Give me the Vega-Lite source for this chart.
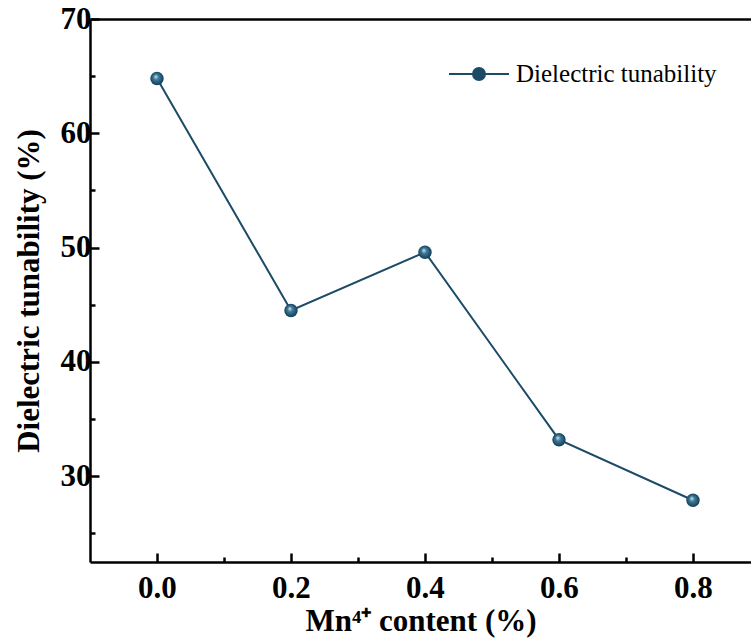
{
  "$schema": "https://vega.github.io/schema/vega-lite/v6.json",
  "width": 661,
  "height": 543,
  "autosize": "none",
  "padding": {"left": 90, "top": 19, "right": 0, "bottom": 79},
  "background": "white",
  "config": {
    "view": {"stroke": null},
    "font": "Liberation Serif"
  },
  "data": {
    "values": [
      {"mn": 0.0, "tun": 64.8, "series": "Dielectric tunability"},
      {"mn": 0.2, "tun": 44.5, "series": "Dielectric tunability"},
      {"mn": 0.4, "tun": 49.6, "series": "Dielectric tunability"},
      {"mn": 0.6, "tun": 33.2, "series": "Dielectric tunability"},
      {"mn": 0.8, "tun": 27.9, "series": "Dielectric tunability"}
    ]
  },
  "resolve": {"axis": {"x": "independent", "y": "independent"}},
  "layer": [
    {
      "mark": {"type": "line", "stroke": "#1b4b66", "strokeWidth": 2},
      "encoding": {
        "x": {
          "field": "mn", "type": "quantitative",
          "scale": {"domain": [-0.1, 0.8866], "nice": false, "zero": false},
          "axis": {
            "orient": "bottom",
            "title": "Mn⁴⁺ content (%)",
            "titleFont": "Liberation Serif", "titleFontSize": 31, "titleFontWeight": "bold", "titleColor": "black",
            "titlePadding": 3,
            "values": [0, 0.2, 0.4, 0.6, 0.8],
            "format": ".1f",
            "labelFont": "Liberation Serif", "labelFontSize": 31, "labelFontWeight": "bold", "labelColor": "black",
            "labelPadding": 20,
            "labelFlush": false, "labelOverlap": false,
            "grid": false,
            "domainColor": "black", "domainWidth": 2.5,
            "tickColor": "black", "tickWidth": 2.5,
            "tickSize": -9
          }
        },
        "y": {
          "field": "tun", "type": "quantitative",
          "scale": {"domain": [22.5, 70], "nice": false, "zero": false},
          "axis": {
            "orient": "left",
            "title": "Dielectric tunability (%)",
            "titleFont": "Liberation Serif", "titleFontSize": 31, "titleFontWeight": "bold", "titleColor": "black",
            "titlePadding": 15,
            "values": [30, 40, 50, 60, 70],
            "format": "d",
            "labelFont": "Liberation Serif", "labelFontSize": 31, "labelFontWeight": "bold", "labelColor": "black",
            "labelPadding": 8,
            "labelFlush": false, "labelOverlap": false,
            "grid": false,
            "domainColor": "black", "domainWidth": 2.5,
            "tickColor": "black", "tickWidth": 2.5,
            "tickSize": -9
          }
        }
      }
    },
    {
      "mark": {
        "type": "point", "filled": true, "size": 180, "opacity": 1, "strokeWidth": 0,
        "fill": {
          "gradient": "radial",
          "x1": 0.4, "y1": 0.35, "r1": 0,
          "x2": 0.5, "y2": 0.5, "r2": 0.55,
          "stops": [
            {"offset": 0, "color": "#d8e8f0"},
            {"offset": 0.35, "color": "#3f7b9a"},
            {"offset": 1, "color": "#0c3550"}
          ]
        }
      },
      "encoding": {
        "x": {
          "field": "mn", "type": "quantitative",
          "axis": {
            "orient": "top", "title": null, "labels": false, "ticks": false, "grid": false,
            "domainColor": "black", "domainWidth": 2.5
          }
        },
        "y": {
          "field": "tun", "type": "quantitative",
          "axis": {
            "orient": "left", "title": null, "labels": false, "grid": false, "domain": false,
            "values": [25, 35, 45, 55, 65],
            "tickColor": "black", "tickWidth": 2.5, "tickSize": -5
          }
        },
        "color": {
          "field": "series", "type": "nominal",
          "scale": {"range": ["#1b4b66"]},
          "legend": {
            "title": null,
            "orient": "none",
            "legendX": 358,
            "legendY": 24,
            "symbolType": "M-1,0L-0.2,0M0.2,0L1,0M-0.2,0A0.2,0.2,0,1,1,0.2,0A0.2,0.2,0,1,1,-0.2,0Z",
            "symbolSize": 3600,
            "symbolFillColor": "#1f5878",
            "symbolStrokeColor": "#1b4b66",
            "symbolStrokeWidth": 2,
            "labelFont": "Liberation Serif", "labelFontSize": 25, "labelColor": "black",
            "labelLimit": 0,
            "labelOffset": 6
          }
        }
      }
    },
    {
      "mark": {"type": "point", "opacity": 0},
      "encoding": {
        "x": {
          "field": "mn", "type": "quantitative",
          "axis": {
            "orient": "bottom", "title": null, "labels": false, "grid": false, "domain": false,
            "values": [0.1, 0.3, 0.5, 0.7],
            "tickColor": "black", "tickWidth": 2.5, "tickSize": -5
          }
        },
        "y": {"field": "tun", "type": "quantitative", "axis": null}
      }
    }
  ]
}
